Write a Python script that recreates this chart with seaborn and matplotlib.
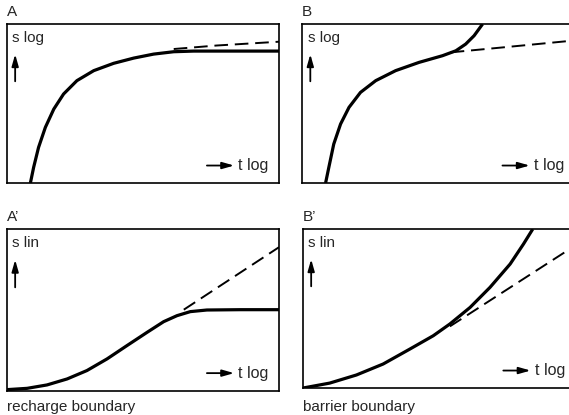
import pandas as pd
import numpy as np
import matplotlib
matplotlib.use('Agg')
import matplotlib.pyplot as plt
import seaborn as sns

# curves, in axis fractions (0..1)
a_x = [0.086, 0.098, 0.116, 0.141, 0.172, 0.208, 0.257, 0.319, 0.392, 0.466, 0.539, 0.613, 0.686, 0.831, 1.0]
a_y = [0.0, 0.099, 0.224, 0.350, 0.465, 0.560, 0.644, 0.707, 0.753, 0.786, 0.811, 0.826, 0.830, 0.830, 0.830]
a_dash_x = [0.613, 0.77, 1.0]
a_dash_y = [0.843, 0.865, 0.889]

b_x = [0.086, 0.098, 0.116, 0.141, 0.172, 0.214, 0.270, 0.343, 0.429, 0.515, 0.564, 0.600, 0.631, 0.662]
b_y = [0.0, 0.099, 0.245, 0.371, 0.476, 0.570, 0.644, 0.707, 0.759, 0.801, 0.832, 0.874, 0.927, 1.0]
b_dash_x = [0.545, 0.735, 1.0]
b_dash_y = [0.822, 0.853, 0.897]

a2_x = [0.0, 0.074, 0.147, 0.221, 0.294, 0.368, 0.441, 0.515, 0.576, 0.625, 0.674, 0.735, 0.858, 1.0]
a2_y = [0.008, 0.016, 0.037, 0.074, 0.126, 0.198, 0.280, 0.362, 0.428, 0.465, 0.490, 0.500, 0.502, 0.502]
a2_dash_x = [0.65, 1.0]
a2_dash_y = [0.502, 0.888]

b2_x = [0.0, 0.098, 0.196, 0.294, 0.392, 0.478, 0.539, 0.613, 0.686, 0.760, 0.809, 0.843]
b2_y = [0.0, 0.031, 0.082, 0.151, 0.245, 0.329, 0.403, 0.507, 0.633, 0.780, 0.906, 1.0]
b2_dash_x = [0.539, 1.0]
b2_dash_y = [0.388, 0.898]

panels = [
    # label, ylabel, solid x, solid y, dash x, dash y, axes rect, caption
    ('A', 's log', a_x, a_y, a_dash_x, a_dash_y, [0.0123, 0.559, 0.478, 0.383], None),
    ('B', 's log', b_x, b_y, b_dash_x, b_dash_y, [0.531, 0.559, 0.479, 0.383], None),
    ("A\u2019", 's lin', a2_x, a2_y, a2_dash_x, a2_dash_y, [0.0123, 0.058, 0.478, 0.390], 'recharge boundary'),
    ("B\u2019", 's lin', b2_x, b2_y, b2_dash_x, b2_dash_y, [0.5325, 0.065, 0.479, 0.383], 'barrier boundary'),
]

sns.set_style('white')
plt.rcParams['font.family'] = ['Liberation Sans', 'DejaVu Sans']

fig = plt.figure(figsize=(5.69, 4.15), dpi=100)
arrow = dict(arrowstyle='-|>,head_length=0.7,head_width=0.2', color='black',
             lw=1.3, shrinkA=0, shrinkB=0)

for label, ylab, sx, sy, dx, dy, rect, caption in panels:
    ax = fig.add_axes(rect)
    sns.lineplot(x=sx, y=sy, ax=ax, color='black', linewidth=2.3, sort=False)
    sns.lineplot(x=dx, y=dy, ax=ax, color='black', linewidth=1.4, sort=False,
                 linestyle=(0, (7, 3.5)))
    for ln in ax.get_lines():
        ln.set_solid_joinstyle('round')
        ln.set_solid_capstyle('butt')
    ax.set_xlim(0, 1)
    ax.set_ylim(0, 1)
    ax.set_xticks([])
    ax.set_yticks([])
    ax.set_xlabel('')
    ax.set_ylabel('')
    for sp in ax.spines.values():
        sp.set_color('black')
        sp.set_linewidth(1.2)

    # panel letter above the box
    ax.text(0.0, 1.03, label, transform=ax.transAxes, fontsize=11,
            ha='left', va='bottom')
    # y quantity with upward arrow
    ax.text(0.02, 0.955, ylab, transform=ax.transAxes, fontsize=11,
            ha='left', va='top')
    ax.annotate('', xy=(0.03, 0.81), xytext=(0.03, 0.64), xycoords='axes fraction',
                arrowprops=arrow)
    # x quantity with right arrow
    ax.annotate('', xy=(0.835, 0.11), xytext=(0.735, 0.11), xycoords='axes fraction',
                arrowprops=arrow)
    ax.text(0.85, 0.11, 't log', transform=ax.transAxes, fontsize=11.5,
            ha='left', va='center')
    if caption:
        # both captions sit on the same line near the bottom of the figure
        fig.text(rect[0], 0.02, caption, fontsize=11, ha='left', va='center')

fig.savefig('out.png', dpi=100)
